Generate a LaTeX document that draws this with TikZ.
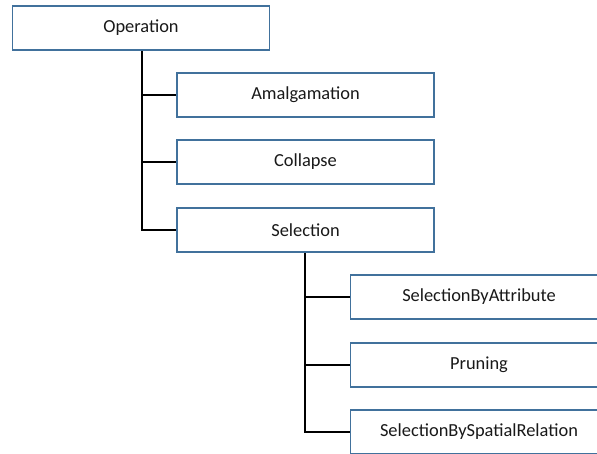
\documentclass[tikz,border=0pt]{standalone}
\usepackage{fontspec}
\setmainfont{Carlito}
\definecolor{boxline}{HTML}{41719C}
\begin{document}
\begin{tikzpicture}[x=1pt,y=-1pt,
  item/.style={draw=boxline, line width=1.5pt, fill=white, minimum width=257pt,
    minimum height=44pt, inner sep=0pt, font=\fontsize{18.4}{21}\selectfont, text=black!90},
  link/.style={draw=black, line width=1.6pt}]
\useasboundingbox (0,0) rectangle (597,453);
\clip (0,0) rectangle (597,453);
\node[item] (op)   at (141,28)  {Operation};
\node[item] (amal) at (305.5,95)  {Amalgamation};
\node[item] (coll) at (305.5,162) {Collapse};
\node[item] (sel)  at (305.5,230) {Selection};
\node[item] (attr) at (479,297) {SelectionByAttribute};
\node[item] (prun) at (479,365)   {Pruning};
\node[item] (spat) at (479,432)   {SelectionBySpatialRelation};
% trunk under the root and its branches
\draw[link] (op.south -| 142,0) -- (142,230) -- (sel.west);
\draw[link] (142,95) -- (amal.west);
\draw[link] (142,162) -- (coll.west);
% trunk under Selection and its branches
\draw[link] (sel.south -| 305,0) -- (305,432) -- (spat.west);
\draw[link] (305,297) -- (attr.west);
\draw[link] (305,365) -- (prun.west);
\end{tikzpicture}
\end{document}
